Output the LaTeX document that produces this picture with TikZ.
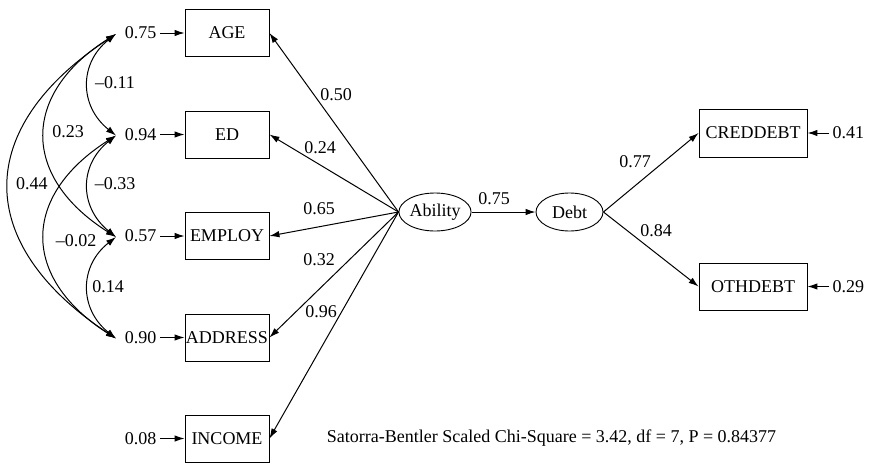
\documentclass[tikz,border=0pt]{standalone}
\usepackage{fontspec}
\setmainfont{Liberation Serif}
\usetikzlibrary{arrows.meta,shapes.geometric}
\begin{document}
\begin{tikzpicture}[x=1pt,y=-1pt, font=\fontsize{18}{21}\selectfont,
 obs/.style={draw, line width=0.9pt, minimum width=84pt, minimum height=47pt, inner sep=0pt},
 lat/.style={draw, ellipse, line width=0.9pt, minimum height=38pt, inner sep=0pt},
 arr/.style={-{Latex[length=10pt,width=6.5pt]}, line width=1pt},
 darr/.style={{Latex[length=10pt,width=6.5pt]}-{Latex[length=10pt,width=6.5pt]}, line width=1pt},
 lbl/.style={inner sep=1pt}]
\useasboundingbox (0,0) rectangle (869,463);
% observed
\node[obs] (age) at (227,33) {AGE};
\node[obs] (ed) at (227,134.5) {ED};
\node[obs] (emp) at (227,236) {EMPLOY};
\node[obs] (addr) at (227,337.5) {ADDRESS};
\node[obs] (inc) at (227,438.5) {INCOME};
\node[lat, minimum width=66pt] (abil) at (435,212) {Ability};
\node[lat, minimum width=67pt] (debt) at (569.5,212) {Debt};
\node[obs, minimum width=108pt, minimum height=48pt] (cred) at (753,133) {CREDDEBT};
\node[obs, minimum width=108pt] (oth) at (753,286.5) {OTHDEBT};
% error terms
\node[anchor=east] (e1) at (160,33) {0.75};
\node[anchor=east] (e2) at (160,134.5) {0.94};
\node[anchor=east] (e3) at (160,236) {0.57};
\node[anchor=east] (e4) at (160,337.5) {0.90};
\node[anchor=east] (e5) at (160,438.5) {0.08};
\node[anchor=west] (r1) at (829,133) {0.41};
\node[anchor=west] (r2) at (829,286.5) {0.29};
\draw[arr] (e1) -- (age);
\draw[arr] (e2) -- (ed);
\draw[arr] (e3) -- (emp);
\draw[arr] (e4) -- (addr);
\draw[arr] (e5) -- (inc);
\draw[arr] (r1) -- (cred);
\draw[arr] (r2) -- (oth);
% correlations
\coordinate (k1) at (116,34);
\coordinate (k2) at (116,135.5);
\coordinate (k3) at (116,237);
\coordinate (k4) at (116,338.5);
\draw[darr] (k1) .. controls (79,63) and (79,106) .. (k2);
\draw[darr] (k2) .. controls (79,165) and (79,207) .. (k3);
\draw[darr] (k3) .. controls (79,266) and (79,309) .. (k4);
\draw[darr] (k1) .. controls (21,94) and (21,177) .. (k3);
\draw[darr] (k2) .. controls (21,196) and (21,278) .. (k4);
\draw[darr] (k1) .. controls (-27,128) and (-27,244) .. (k4);
\node[lbl] (c12) at (115,83) {–0.11};
\node[lbl] (c23) at (115,184) {–0.33};
\node[lbl] (c34) at (108,287) {0.14};
\node[lbl] (c13) at (68,132) {0.23};
\node[lbl] (c24) at (76,241) {–0.02};
\node[lbl] (c14) at (32,184) {0.44};
% loadings
\draw[arr] (abil.west) -- (age.east);
\draw[arr] (abil.west) -- (ed.east);
\draw[arr] (abil.west) -- (emp.east);
\draw[arr] (abil.west) -- (addr.east);
\draw[arr] (abil.west) -- (inc.east);
\node[lbl] (l1) at (336,95) {0.50};
\node[lbl] (l2) at (320,148) {0.24};
\node[lbl] (l3) at (319,209) {0.65};
\node[lbl] (l4) at (319,260) {0.32};
\node[lbl] (l5) at (321,312) {0.96};
\draw[arr] (abil) -- (debt);
\node[lbl] (l6) at (494,199) {0.75};
\draw[arr] (debt.east) -- (cred.west);
\draw[arr] (debt.east) -- (oth.west);
\node[lbl] (l7) at (635,162) {0.77};
\node[lbl] (l8) at (656,231) {0.84};
\node (fit) at (551.5,438) {Satorra-Bentler Scaled Chi-Square = 3.42, df = 7, P = 0.84377};
\end{tikzpicture}
\end{document}
